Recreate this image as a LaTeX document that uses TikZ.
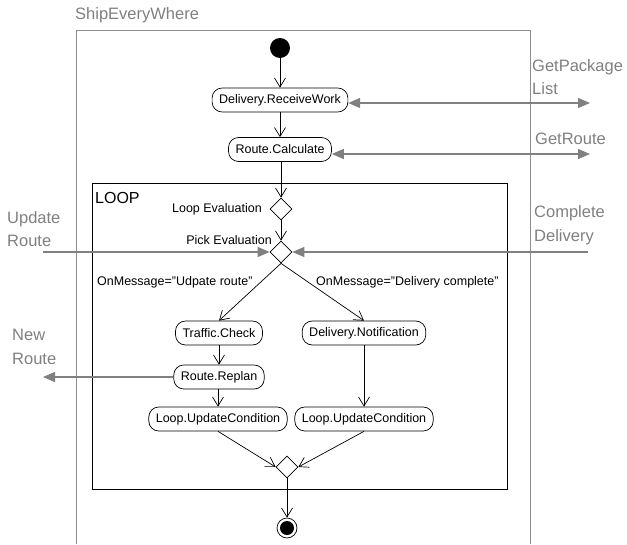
\documentclass[tikz,border=0pt]{standalone}
\usepackage{fontspec}
\setmainfont{Liberation Sans}
\usetikzlibrary{arrows.meta,shapes.geometric}
\definecolor{lanegray}{RGB}{140,140,140}
\definecolor{msggray}{RGB}{128,128,128}
\tikzset{
  action/.style={draw, line width=0.7pt, rectangle, rounded corners=10pt,
    minimum height=24pt, inner xsep=7pt, inner ysep=2pt,
    font=\fontsize{12.5}{14}\selectfont},
  choice/.style={draw, line width=0.7pt, diamond, minimum width=22pt,
    minimum height=22pt, inner sep=0pt},
  flow/.style={draw, line width=0.7pt, -{Straight Barb[length=9pt,width=11pt]}},
  msg/.style={draw=msggray, line width=1.3pt,
    -{Triangle[length=12pt,width=10pt]}, color=msggray},
  msgboth/.style={draw=msggray, line width=1.3pt,
    {Triangle[length=12pt,width=10pt]}-{Triangle[length=12pt,width=10pt]}, color=msggray},
  glabel/.style={text=msggray, font=\fontsize{16.5}{23.5}\selectfont, align=left,
    inner sep=0pt},
  blabel/.style={font=\fontsize{12.5}{14}\selectfont, inner sep=0pt},
}
\begin{document}
\begin{tikzpicture}[x=1pt,y=-1pt]
\useasboundingbox (0,0) rectangle (627,544);

% swimlane frame
\draw[lanegray, line width=0.9pt] (76,544) -- (76,30) -- (530,30) -- (530,544);
\node[glabel, anchor=west] (lane) at (75,15) {ShipEveryWhere};

% loop region
\draw[line width=0.9pt] (92,183) rectangle (507,489);
\node[anchor=west, font=\fontsize{16}{18}\selectfont, inner sep=0pt] (looplbl) at (95,198) {LOOP};

% nodes
\node[circle, fill=black, minimum size=20pt, inner sep=0pt] (start) at (280,48) {};
\node[action] (rw) at (280,100) {Delivery.ReceiveWork};
\node[action] (rc) at (280,149.5) {Route.Calculate};
\node[choice] (le) at (281,209) {};
\node[choice] (pe) at (281,252) {};
\node[action] (tc) at (219,333) {Traffic.Check};
\node[action] (rr) at (219,377) {Route.Replan};
\node[action] (luc1) at (218,419) {Loop.UpdateCondition};
\node[action] (dn) at (364,333) {Delivery.Notification};
\node[action] (luc2) at (364,419) {Loop.UpdateCondition};
\node[choice] (mg) at (287,467) {};
\node[circle, draw, line width=0.7pt, minimum size=20pt, inner sep=0pt] (fin) at (287,528) {};
\fill (fin.center) circle (7pt);

% labels
\node[blabel, anchor=east] (lelbl) at (262,209) {Loop Evaluation};
\node[blabel, anchor=east] (pelbl) at (272,240) {Pick Evaluation};
\node[blabel, anchor=west] (om1) at (97,282) {OnMessage="Udpate route"};
\node[blabel, anchor=west] (om2) at (316,282) {OnMessage="Delivery complete"};

% control flow
\draw[flow] (start) -- (rw);
\draw[flow] (rw) -- (rc);
\draw[flow] (rc.south -| le.north) -- (le.north);
\draw[flow] (le.south) -- (pe.north);
\draw[flow] (pe.south) -- (tc.north);
\draw[flow] (pe.south) -- (dn.north);
\draw[flow] (tc) -- (rr);
\draw[flow] (rr.south -| luc1.north) -- (luc1.north);
\draw[flow] (dn) -- (luc2);
\draw[flow] (luc1.south) -- (mg.west);
\draw[flow] (luc2.south) -- (mg.east);
\draw[flow] (mg.south) -- (fin.north);

% message exchanges
\coordinate (gpl) at (590,103);
\coordinate (gr) at (590,154);
\coordinate (ur) at (43,252);
\coordinate (cd) at (588,252);
\coordinate (nr) at (43,377);
\draw[msgboth] (gpl -| rw.east) -- (gpl);
\draw[msgboth] (gr -| rc.east) -- (gr);
\draw[msg] (ur) -- (pe.west);
\draw[msg] (cd) -- (pe.east);
\draw[msg] (rr.west) -- (nr);

\node[glabel, anchor=west] (gpllbl) at (532,77) {GetPackage\\List};
\node[glabel, anchor=west] (grlbl) at (535,139) {GetRoute};
\node[glabel, anchor=west] (urlbl) at (7,229) {Update\\Route};
\node[glabel, anchor=west] (cdlbl) at (534,225) {Complete\\Delivery};
\node[glabel, anchor=west] (nrlbl) at (12,347) {New\\Route};
\end{tikzpicture}
\end{document}
